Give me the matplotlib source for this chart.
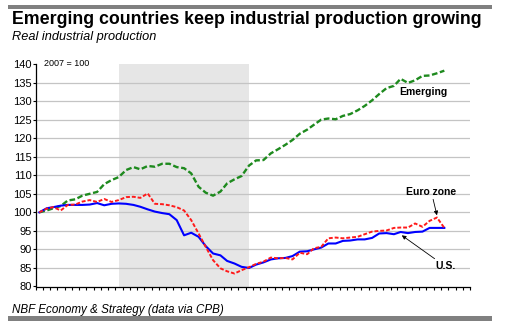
import matplotlib
matplotlib.use("Agg")
import matplotlib.pyplot as plt
import matplotlib.dates as mdates
from matplotlib.patches import Rectangle
import numpy as np
import pandas as pd

plt.rcParams['font.family'] = ['Liberation Sans', 'DejaVu Sans']

# monthly index levels, 2007 = 100 (Jan 2007 .. Sep 2011)
emerging = [100.0, 100.5, 101.1, 101.7, 103.2, 103.5, 104.5, 105.0, 105.5, 107.6,
            108.7, 109.5, 111.4, 112.2, 111.6, 112.5, 112.3, 113.1, 113.1, 112.2,
            111.9, 110.5, 106.9, 105.3, 104.5, 105.6, 107.8, 108.9, 109.8, 112.6,
            114.0, 114.1, 115.9, 117.0, 118.2, 119.5, 121.2, 122.3, 123.6, 125.0,
            125.3, 125.1, 126.0, 126.5, 127.5, 128.7, 130.2, 131.9, 133.5, 134.1,
            136.0, 134.9, 135.6, 136.8, 136.9, 137.5, 138.2]
us = [100.0, 101.1, 101.4, 101.8, 102.0, 102.0, 102.0, 102.1, 102.5, 101.9,
      102.3, 102.4, 102.3, 102.0, 101.5, 100.8, 100.2, 99.8, 99.5, 97.9,
      93.8, 94.5, 93.4, 90.9, 88.9, 88.4, 86.9, 86.2, 85.3, 85.0,
      85.9, 86.5, 87.3, 87.6, 87.7, 88.2, 89.4, 89.5, 90.0, 90.5,
      91.6, 91.6, 92.3, 92.4, 92.7, 92.7, 93.1, 94.3, 94.4, 94.1,
      94.7, 94.4, 94.7, 94.8, 95.8, 95.8, 95.8]
euro = [100.0, 101.0, 101.4, 100.5, 102.0, 102.1, 102.9, 103.3, 102.8, 103.6,
        102.8, 103.3, 104.1, 104.2, 103.9, 105.1, 102.3, 102.2, 101.9, 101.4,
        100.5, 97.9, 94.3, 90.7, 87.1, 84.9, 84.1, 83.5, 84.4, 85.2,
        86.1, 86.7, 87.8, 87.6, 87.7, 87.3, 89.1, 88.7, 90.3, 90.7,
        93.0, 93.2, 93.0, 93.2, 93.4, 94.1, 94.8, 95.0, 95.1, 95.8,
        95.9, 95.9, 97.0, 96.1, 97.7, 98.6, 95.8]
years = [2007, 2008, 2009, 2010, 2011]
recession = ('2007-12', '2009-06')

# plot each monthly value at mid-month
months = pd.date_range('2007-01-01', periods=len(us), freq='MS') + pd.Timedelta(days=14)

fig = plt.figure(figsize=(5.05, 3.34), dpi=100)
ax = fig.add_axes([36 / 505, 1 - 286.5 / 334, 434 / 505, 222.5 / 334])

rec_start = pd.Timestamp(recession[0] + '-15')
rec_end = pd.Timestamp(recession[1] + '-15')
ax.axvspan(rec_start, rec_end, color='#e6e6e6', lw=0, zorder=0)

ax.plot(months, emerging, color='#1e8a1e', lw=1.7, ls=(0, (2.4, 1.1)), zorder=3)
ax.plot(months, us, color='#0000ff', lw=1.5, zorder=3)
ax.plot(months, euro, color='#ff1a1a', lw=1.4, ls=(0, (2.0, 1.0)), zorder=4)

ax.set_xlim(pd.Timestamp('2007-01-01'), pd.Timestamp('2012-01-01'))
ax.set_ylim(80, 140)
ax.set_yticks(np.arange(80, 141, 5))
for v in np.arange(85, 140, 5):
    ax.axhline(v, color='#c4c4c4', lw=0.9, zorder=0.5)

ax.xaxis.set_major_locator(mdates.MonthLocator())
ax.xaxis.set_major_formatter(plt.NullFormatter())
ax.set_xticks([pd.Timestamp(f'{y}-07-01') for y in years], minor=True)
ax.set_xticklabels([str(y) for y in years], minor=True)
ax.tick_params(axis='x', which='major', direction='out', length=2.5, width=0.8)
ax.tick_params(axis='x', which='minor', length=0, pad=3.5, labelsize=8.5)
ax.tick_params(axis='y', direction='out', length=2.5, width=0.8, pad=0.5, labelsize=8)

for s in ('top', 'right'):
    ax.spines[s].set_visible(False)
for s in ('left', 'bottom'):
    ax.spines[s].set_linewidth(0.9)

ax.text(0.018, 1.0, '2007 = 100', transform=ax.transAxes, fontsize=6.5,
        ha='left', va='center')

ax.text(pd.Timestamp('2011-03-10'), 132.4, 'Emerging', fontsize=7.5,
        fontweight='bold', ha='left', va='center', zorder=5)

arrow = dict(arrowstyle='-|>', lw=0.6, color='black', mutation_scale=6,
             shrinkA=0, shrinkB=0)
ax.annotate('Euro zone', xy=(months[55], euro[55] + 0.6),
            xytext=(pd.Timestamp('2011-07-22'), 105.6), fontsize=7.5,
            fontweight='bold', ha='center', va='center', arrowprops=arrow)
ax.annotate('U.S.', xy=(months[50] + pd.Timedelta(days=5), us[50] - 0.9),
            xytext=(pd.Timestamp('2011-09-20'), 85.4), fontsize=7.5,
            fontweight='bold', ha='center', va='center', arrowprops=arrow)

fig.text(12 / 505, 1 - 19 / 334, 'Emerging countries keep industrial production growing',
         fontsize=12.8, fontweight='bold', ha='left', va='center')
fig.text(12 / 505, 1 - 37 / 334, 'Real industrial production',
         fontsize=9.2, style='italic', ha='left', va='center')
fig.text(12 / 505, 1 - 310 / 334, 'NBF Economy & Strategy (data via CPB)',
         fontsize=8.4, style='italic', ha='left', va='center')

# grey rules above and below
fig.add_artist(Rectangle((8 / 505, 1 - 9 / 334), 484 / 505, 4 / 334,
                         transform=fig.transFigure, color='#808080', lw=0))
fig.add_artist(Rectangle((8 / 505, 1 - 321 / 334), 484 / 505, 5 / 334,
                         transform=fig.transFigure, color='#808080', lw=0))

fig.savefig('out.png', dpi=100)
